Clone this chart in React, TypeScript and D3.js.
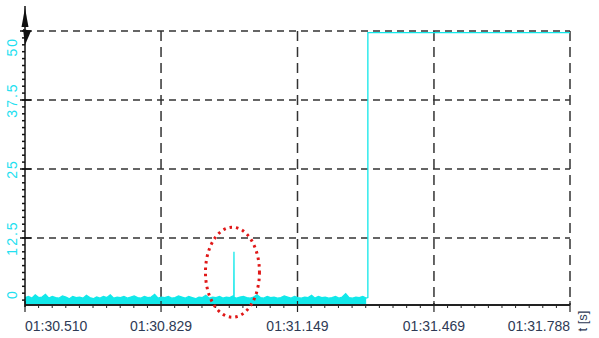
import React from 'react'
import * as d3 from 'd3'

// time axis (seconds of the recording, shown as mm:ss.fff)
const xTicks = [90.51, 90.829, 91.149, 91.469, 91.788]
const xTickLabels = ['01:30.510', '01:30.829', '01:31.149', '01:31.469', '01:31.788']
const yTicks = [0, 12.5, 25, 37.5, 50]
const yTickLabels = ['0', '12.5', '25', '37.5', '50']

// sampled noise before the step (upper edge of the band)
const noiseStart = 90.51
const noiseStep = 0.008
const noiseValues = [
  1.7, 1.9, 1.6, 2.2, 1.7, 1.8, 2.3, 1.6, 1.9, 1.7, 1.6, 2.0, 1.8, 1.5, 1.9, 1.7, 1.8, 1.6, 2.1, 1.7,
  1.5, 1.8, 1.6, 1.9, 1.7, 2.2, 1.6, 1.8, 1.7, 1.9, 1.6, 1.8, 2.0, 1.7, 1.6, 1.9, 1.7, 1.8, 2.3, 1.6,
  1.8, 1.7, 1.9, 1.6, 1.7, 2.0, 1.8, 1.6, 1.9, 1.7, 1.5, 1.8, 1.7, 2.1, 1.6, 1.8, 1.7, 1.9, 1.6, 1.8,
  1.7, 2.0, 1.6, 1.8, 1.9, 1.7, 1.6, 1.8, 2.2, 1.7, 1.6, 1.9, 1.7, 1.8, 1.6, 1.7, 2.0, 1.8, 1.6, 1.9,
  1.7, 1.6, 1.8, 1.7, 2.1, 1.6, 1.9, 1.7, 1.8, 1.6, 1.7, 1.9, 1.6, 1.8, 2.4, 1.7, 1.6, 1.8, 1.7, 1.9, 1.6
]
const spike = { t: 91.0, v: 10 }
const stepTimes = [91.314, 91.788]
const stepLevel = 49.7
const highlight = { t: 91.0, v: 6.3 }

const W = 599
const H = 338
const left = 25
const right = 570
const top = 31
const bottom = 305

const cyan = '#12e8ea'
const grid = '#333'

export default function App() {
  const x = d3.scaleLinear().domain([xTicks[0], xTicks[xTicks.length - 1]]).range([left, right])
  const y = d3.scaleLinear().domain([0, 50]).range([307, top])
  const yMin = y.invert(bottom)

  const noise = noiseValues.map((v, i) => ({ t: noiseStart + i * noiseStep, v }))
  const signal = [
    ...noise.filter(d => d.t < spike.t),
    { t: spike.t - 0.0004, v: 1.7 },
    spike,
    { t: spike.t + 0.0004, v: 1.7 },
    ...noise.filter(d => d.t > spike.t),
    { t: stepTimes[0], v: 1.7 },
    { t: stepTimes[0], v: stepLevel },
    { t: stepTimes[1], v: stepLevel }
  ]

  const line = d3.line<{ t: number; v: number }>().x(d => x(d.t)).y(d => y(d.v))
  const area = d3
    .area<{ t: number; v: number }>()
    .x(d => x(d.t))
    .y0(y(yMin))
    .y1(d => y(d.v))

  const xMinor: number[] = []
  for (let i = 0; i < xTicks.length - 1; i++) {
    const a = xTicks[i]
    const b = xTicks[i + 1]
    for (let k = 1; k < 10; k++) xMinor.push(a + ((b - a) * k) / 10)
  }
  const yMinor = d3.range(0, 50.01, 1.25).filter(v => y(v) < bottom - 1)

  const font = '"Liberation Sans", Arial, sans-serif'

  return (
    <svg
      width={W}
      height={H}
      style={{ position: 'fixed', left: 0, top: 0, background: '#fff' }}
      fontFamily={font}
    >
      <defs>
        <clipPath id="plot">
          <rect x={left} y={0} width={right - left} height={bottom} />
        </clipPath>
      </defs>

      {/* horizontal grid */}
      {yTicks.filter(v => v > 0).map(v => (
        <line
          key={'hg' + v}
          x1={left}
          x2={right}
          y1={y(v)}
          y2={y(v)}
          stroke={grid}
          strokeWidth={1.5}
          strokeDasharray="7,5"
        />
      ))}
      {/* vertical grid */}
      {xTicks.slice(1).map(t => (
        <line
          key={'vg' + t}
          x1={x(t)}
          x2={x(t)}
          y1={top}
          y2={bottom}
          stroke={grid}
          strokeWidth={1.5}
          strokeDasharray="10,6"
        />
      ))}

      {/* signal */}
      <g clipPath="url(#plot)">
        <path d={area(noise.filter(d => d.t <= stepTimes[0])) || ''} fill={cyan} />
        <path d={line(signal) || ''} fill="none" stroke={cyan} strokeWidth={1.3} />
      </g>

      {/* x axis */}
      <line x1={left} x2={right} y1={bottom} y2={bottom} stroke="#222" strokeWidth={2} />
      {xMinor.map((t, i) => (
        <line key={'xm' + i} x1={x(t)} x2={x(t)} y1={bottom} y2={bottom + 3} stroke="#222" strokeWidth={1} />
      ))}
      {xTicks.map(t => (
        <line key={'xt' + t} x1={x(t)} x2={x(t)} y1={bottom - 4} y2={bottom + 7} stroke="#222" strokeWidth={1.2} />
      ))}
      {xTicks.map((t, i) => (
        <text
          key={'xl' + t}
          x={x(t)}
          y={331}
          fontSize={14}
          fill="#2e3a55"
          textAnchor={i === 0 ? 'start' : i === xTicks.length - 1 ? 'end' : 'middle'}
        >
          {xTickLabels[i]}
        </text>
      ))}
      <text
        transform={`translate(587,321) rotate(-90)`}
        fontSize={13}
        fill="#2e3a55"
        textAnchor="middle"
      >
        t [s]
      </text>

      {/* y axis */}
      <line x1={left} x2={left} y1={6} y2={bottom + 2} stroke="#111" strokeWidth={1.5} />
      <polygon points={`${left},8 ${left - 3.5},27 ${left + 3.5},27`} fill="#111" />
      <polygon points={`${left - 2},29 ${left + 6},31 ${left},45`} fill="#111" />
      {yMinor.map((v, i) => (
        <line key={'ym' + i} x1={left - 3} x2={left} y1={y(v)} y2={y(v)} stroke="#111" strokeWidth={1.5} />
      ))}
      {yTicks.filter(v => v > 0).map(v => (
        <line key={'yt' + v} x1={left - 5} x2={left + 6} y1={y(v)} y2={y(v)} stroke="#111" strokeWidth={1.5} />
      ))}
      {yTicks.map((v, i) => {
        const last = i === yTicks.length - 1
        const first = i === 0
        const py = first ? 299 : last ? 37 : y(v)
        return (
          <text
            key={'yl' + v}
            transform={`translate(16.5,${py}) rotate(-90)`}
            fontSize={14}
            letterSpacing={2}
            fill="#22e0f0"
            textAnchor={first ? 'start' : last ? 'end' : 'middle'}
          >
            {yTickLabels[i]}
          </text>
        )
      })}

      {/* highlight around the spike */}
      <ellipse
        cx={x(highlight.t) - 1.5}
        cy={y(highlight.v)}
        rx={27}
        ry={45}
        fill="none"
        stroke="#e01818"
        strokeWidth={3}
        strokeDasharray="2.5,4"
      />
    </svg>
  )
}
